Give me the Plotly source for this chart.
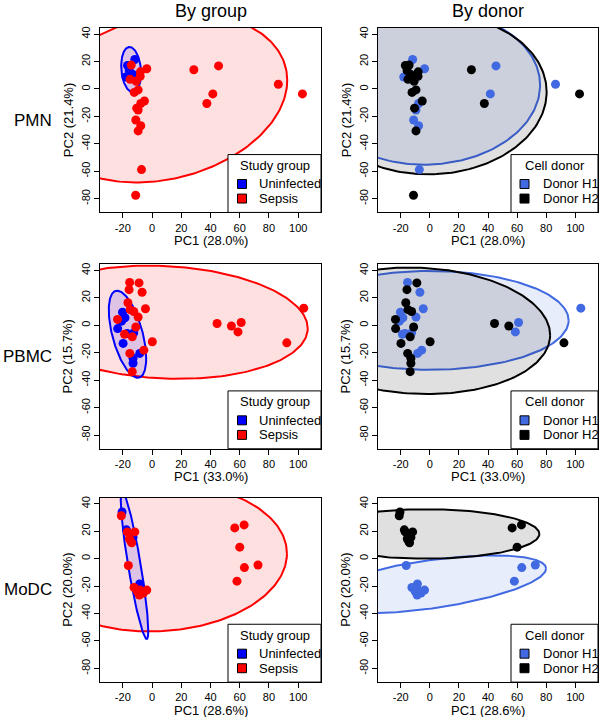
import numpy as np
import plotly.graph_objects as go

# ---------------- data ----------------
row_names = ["PMN", "PBMC", "MoDC"]
pc1_labels = ["PC1 (28.0%)", "PC1 (33.0%)", "PC1 (28.6%)"]
pc2_labels = ["PC2 (21.4%)", "PC2 (15.7%)", "PC2 (20.0%)"]
col_titles = ["By group", "By donor"]

x_ticks = [-20, 0, 20, 40, 60, 80, 100]
y_ticks = [-80, -60, -40, -20, 0, 20, 40]

# PMN samples
pmn_x = [-11.8, -17.9, -16.8, -15.6, -13.0,
         -3.6, -7.7, -9.5, -11.1, -7.7, -7.2, 45.5, 41.6, 86.4,
         -14.2, -8.0, -8.1, -15.0, -10.8, -12.2, -9.5, -5.2, -10.5, -9.5, -11.2, 28.6, 37.5, 102.9]
pmn_y = [21.5, 8.7, 17.1, 13.5, 10.5,
         14.7, -10.6, -15.4, -22.6, -26.8, -58.8, 16.8, -3.6, 3.4,
         17.4, 12.5, 9.3, 7.0, 5.6, -2.5, -0.7, -8.8, -14.0, -30.6, -77.5, 14.0, -10.6, -3.6]
pmn_group = ["U"] * 5 + ["S"] * 23
pmn_donor = ["H1", "H1", "H2", "H2", "H2"] + ["H1"] * 9 + ["H2"] * 14

# PBMC samples
pbmc_x = [-15.3, -8.9, -15.7, -6.8, -16.5, -4.5, -15.0, -12.5, -9.5, -23.6, -11.1, -18.8,
          -13.5, 0.2, -15.2, -5.6, -13.5, 44.5, 54.3, 61.0, 58.8, 92.2, 103.8,
          -20.2, -18.5, -23.5, -17.0, -19.8, -8.4, -13.0, -13.0, -12.5, -20.8]
pbmc_y = [31.3, 30.9, 26.0, 24.1, 16.4, 12.1, 11.4, 10.1, 6.0, 4.3, -1.2, -6.5,
          -8.4, -12.0, -20.5, -18.1, -33.8, 1.3, -0.5, 2.0, -4.8, -12.8, 12.5,
          9.6, 5.5, -2.4, -6.0, -13.2, -20.5, -24.0, -27.7, -5.5, 3.0]
pbmc_group = ["S"] * 23 + ["U"] * 10
pbmc_donor = ["H1", "H2", "H2", "H1", "H2", "H1", "H2", "H2", "H1", "H2", "H2", "H1",
              "H2", "H2", "H2", "H1", "H2", "H2", "H2", "H1", "H1", "H2", "H1",
              "H1", "H1", "H2", "H1", "H2", "H1", "H2", "H2", "H1", "H1"]

# MoDC samples
modc_x = [-20.5, -17.5, -13.0, -8.5, -10.0, -7.0,
          -21.0, -16.9, -11.8, -15.5, -13.9, -14.6, -16.2, -12.3, -8.2, -3.6, -8.7, -10.0, -6.0,
          56.6, 63.0, 60.0, 63.2, 72.5, 58.1]
modc_y = [34.0, 21.0, 15.5, -18.5, -21.5, -24.0,
          31.3, 19.5, 19.5, 14.5, 11.5, 12.8, -5.0, -21.0, -22.9, -22.9, -26.5, -24.0, -25.0,
          22.4, 24.6, 8.4, -6.5, -4.6, -16.4]
modc_group = ["U"] * 6 + ["S"] * 19
modc_donor = ["H2", "H2", "H2", "H1", "H1", "H1",
              "H2", "H2", "H2", "H2", "H2", "H2", "H1", "H1", "H1", "H1", "H1", "H1", "H1",
              "H2", "H2", "H2", "H1", "H1", "H1"]

# ellipses: centre x, centre y, half-width, vertical half-chord at centre, slope of conjugate diameter
ell_group = [
    {"S": (7.0, -6.5, 85.5, 60.3, 0.15), "U": (-14.3, 14.1, 6.8, 16.3, -0.4)},
    {"S": (8.0, 2.25, 98.5, 41.0, -0.045), "U": (-16.8, -6.5, 12.8, 26.5, -1.37)},
    {"S": (3.2, 1.0, 89.1, 54.0, 0.03), "U": (-12.0, -5.0, 9.41, 24.9, -5.05)},
]
ell_donor = [
    {"H1": (-1.4, 0.85, 77.2, 56.0, 0.024), "H2": (1.0, -3.8, 79.3, 58.4, 0.02)},
    {"H1": (0.0, 3.6, 95.4, 36.0, 0.0), "H2": (-8.0, -4.0, 90.7, 46.0, -0.035)},
    {"H1": (0.0, -18.8, 79.9, 17.7, 0.145), "H2": (-2.5, 18.0, 77.8, 18.0, 0.0)},
]

group_names = {"U": "Uninfected", "S": "Sepsis"}
donor_names = {"H1": "Donor H1", "H2": "Donor H2"}
group_colors = {"U": "#0000FF", "S": "#FF0000"}
group_fills = {"U": "rgba(0,0,255,0.13)", "S": "rgba(255,0,0,0.12)"}
donor_colors = {"H1": "#4169E1", "H2": "#000000"}
donor_fills = {"H1": "rgba(65,105,225,0.12)", "H2": "rgba(0,0,0,0.12)"}

datasets = [
    (pmn_x, pmn_y, pmn_group, pmn_donor),
    (pbmc_x, pbmc_y, pbmc_group, pbmc_donor),
    (modc_x, modc_y, modc_group, modc_donor),
]

# ---------------- layout geometry (pixels) ----------------
W, H = 600, 717
col_px = [(100, 321), (378, 598)]
row_px = [(26, 211), (263, 448), (497, 682)]
FONT = "Liberation Sans, Arial, Helvetica, sans-serif"


def PX(x):
    return x / W


def PY(y):
    return 1 - y / H


def ellipse(cx, cy, w, h, s, n=240):
    t = np.linspace(0, 2 * np.pi, n)
    return cx + w * np.cos(t), cy + s * w * np.cos(t) + h * np.sin(t)


fig = go.Figure()
layout = dict(width=W, height=H, margin=dict(l=0, r=0, t=0, b=0),
              paper_bgcolor="white", plot_bgcolor="white", showlegend=False,
              font=dict(family=FONT, color="black"))
annotations = []
shapes = []

axis_common = dict(showline=True, mirror=True, linecolor="black", linewidth=1,
                   showgrid=False, zeroline=False, ticks="outside", ticklen=5,
                   tickcolor="black", tickfont=dict(size=11, family=FONT, color="black"))

idx = 0
for r in range(3):
    xs, ys, grp, don = datasets[r]
    for c in range(2):
        idx += 1
        xa = "x" if idx == 1 else f"x{idx}"
        ya = "y" if idx == 1 else f"y{idx}"
        x0, x1 = col_px[c]
        y0, y1 = row_px[r]
        layout["xaxis" if idx == 1 else f"xaxis{idx}"] = dict(
            axis_common, domain=[PX(x0), PX(x1)], range=[-35.6, 115.6], anchor=ya,
            tickvals=x_ticks, ticktext=[str(v) for v in x_ticks])
        layout["yaxis" if idx == 1 else f"yaxis{idx}"] = dict(
            axis_common, domain=[PY(y1), PY(y0)], range=[-90, 44.5], anchor=xa,
            tickvals=y_ticks, ticktext=[str(v) for v in y_ticks], tickangle=-90)

        if c == 0:
            keys, labels, ells = ["S", "U"], grp, ell_group[r]
            colors, fills = group_colors, group_fills
            pt_order = ["U", "S"]
        else:
            keys, labels, ells = ["H1", "H2"], don, ell_donor[r]
            colors, fills = donor_colors, donor_fills
            pt_order = ["H1", "H2"]
        for k in keys:
            ex, ey = ellipse(*ells[k])
            fig.add_trace(go.Scatter(x=ex, y=ey, mode="lines", fill="toself",
                                     fillcolor=fills[k], line=dict(color=colors[k], width=2),
                                     xaxis=xa, yaxis=ya, hoverinfo="skip"))
        for k in pt_order:
            px_ = [xv for xv, lv in zip(xs, labels) if lv == k]
            py_ = [yv for yv, lv in zip(ys, labels) if lv == k]
            fig.add_trace(go.Scatter(x=px_, y=py_, mode="markers",
                                     marker=dict(color=colors[k], size=9, line=dict(width=0)),
                                     xaxis=xa, yaxis=ya, cliponaxis=True))

        # axis titles
        annotations.append(dict(x=PX((x0 + x1) / 2), y=PY(y1 + 28), xref="paper", yref="paper",
                                text=pc1_labels[r], showarrow=False, xanchor="center",
                                yanchor="middle", font=dict(size=13, family=FONT)))
        annotations.append(dict(x=PX(x0 - 32), y=PY((y0 + y1) / 2), xref="paper", yref="paper",
                                text=pc2_labels[r], showarrow=False, textangle=-90,
                                xanchor="center", yanchor="middle", font=dict(size=13, family=FONT)))

        # legend box
        if c == 0:
            lx0, title, sq_x, tx_x = 228, "Study group", 242, 257
            items = [(group_colors[k], group_names[k]) for k in ["U", "S"]]
        else:
            lx0, title, sq_x, tx_x = 511, "Cell donor", 524.5, 541
            items = [(donor_colors[k], donor_names[k]) for k in ["H1", "H2"]]
        ly0 = y0 + 127
        shapes.append(dict(type="rect", xref="paper", yref="paper",
                           x0=PX(lx0), x1=PX(x1), y0=PY(y1), y1=PY(ly0),
                           fillcolor="white", line=dict(color="black", width=1)))
        annotations.append(dict(x=PX((lx0 + x1) / 2), y=PY(ly0 + 11), xref="paper", yref="paper",
                                text=title, showarrow=False, xanchor="center", yanchor="middle",
                                font=dict(size=13, family=FONT)))
        for j, (colr, lab) in enumerate(items):
            cy_ = ly0 + 29.5 + 14.6 * j
            shapes.append(dict(type="rect", xref="paper", yref="paper",
                               x0=PX(sq_x - 4.5), x1=PX(sq_x + 4.5),
                               y0=PY(cy_ + 4.5), y1=PY(cy_ - 4.5),
                               fillcolor=colr, line=dict(color="black", width=1)))
            annotations.append(dict(x=PX(tx_x), y=PY(cy_), xref="paper", yref="paper",
                                    text=lab, showarrow=False, xanchor="left", yanchor="middle",
                                    font=dict(size=13, family=FONT)))

    # row label
    annotations.append(dict(x=PX(54), y=PY((row_px[r][0] + row_px[r][1]) / 2), xref="paper",
                            yref="paper", text=row_names[r], showarrow=False, xanchor="right",
                            yanchor="middle", font=dict(size=17, family=FONT)))

for c in range(2):
    annotations.append(dict(x=PX((col_px[c][0] + col_px[c][1]) / 2), y=PY(9), xref="paper",
                            yref="paper", text=col_titles[c], showarrow=False, xanchor="center",
                            yanchor="middle", font=dict(size=18, family=FONT)))

layout["annotations"] = annotations
layout["shapes"] = shapes
fig.update_layout(**layout)
fig.write_html(
    "out.html",
    config={"displayModeBar": False, "staticPlot": True},
    post_script=("document.documentElement.style.margin='0';document.documentElement.style.padding='0';"
                 "document.documentElement.style.overflow='hidden';"
                 "document.body.style.margin='0';document.body.style.padding='0';"
                 "document.body.style.overflow='hidden';"),
)
